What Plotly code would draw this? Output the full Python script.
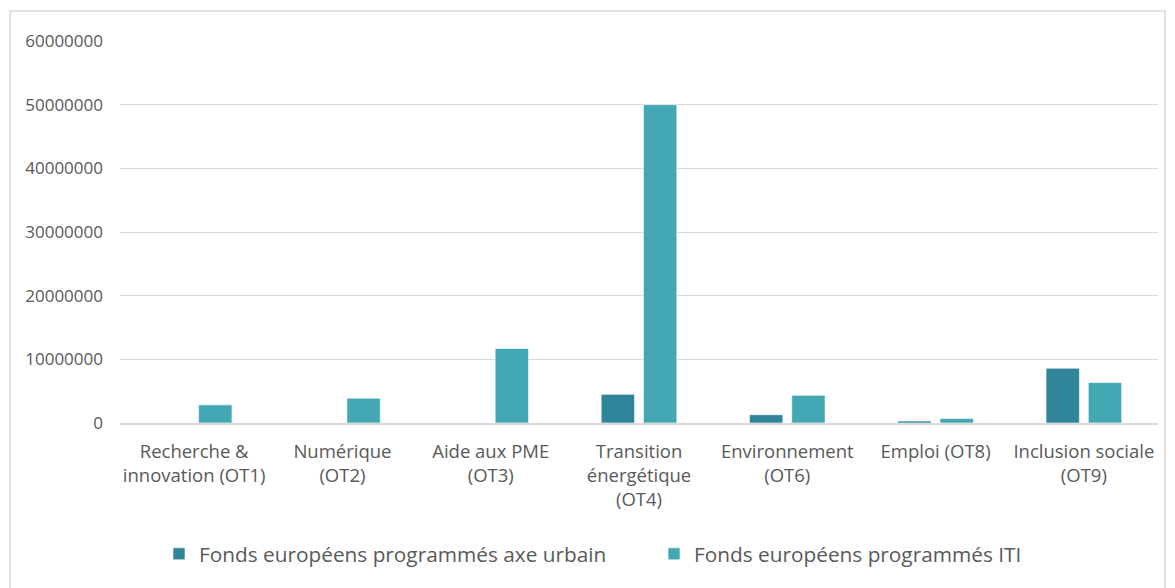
import plotly.graph_objects as go

categories = [
    "Recherche &<br>innovation (OT1)",
    "Numérique<br>(OT2)",
    "Aide aux PME<br>(OT3)",
    "Transition<br>énergétique<br>(OT4)",
    "Environnement<br>(OT6)",
    "Emploi (OT8)",
    "Inclusion sociale<br>(OT9)",
]
axe_urbain = [0, 0, 0, 4500000, 1300000, 300000, 8600000]
iti = [2850000, 3900000, 11700000, 50000000, 4350000, 700000, 6350000]

y_ticks = [0, 10000000, 20000000, 30000000, 40000000, 50000000, 60000000]

FONT = "Open Sans"
GREY = "#595959"
GRID = "#D9D9D9"

fig = go.Figure()

fig.add_trace(
    go.Bar(
        x=categories,
        y=axe_urbain,
        name="Fonds européens programmés axe urbain",
        marker=dict(color="#31859B", line=dict(color="#FFFFFF", width=0.6)),
    )
)
fig.add_trace(
    go.Bar(
        x=categories,
        y=iti,
        name="Fonds européens programmés ITI",
        marker=dict(color="#43A8B4", line=dict(color="#FFFFFF", width=0.6)),
    )
)

# cadre gris autour du graphique (style Excel)
fig.add_shape(
    type="rect",
    xref="paper",
    yref="paper",
    x0=-110 / 1038,
    x1=1.0 + 7 / 1038,
    y0=-200 / 382,
    y1=1.0 + 30 / 382,
    line=dict(color=GRID, width=1.5),
    fillcolor="rgba(0,0,0,0)",
    layer="below",
)

# la page a une marge de 8 px : la figure fait 1167 x 580
fig.update_layout(
    width=1167,
    height=580,
    margin=dict(l=112, r=17, t=33, b=165, autoexpand=False),
    paper_bgcolor="white",
    plot_bgcolor="white",
    font=dict(family=FONT, color=GREY, size=17),
    barmode="group",
    bargap=0.43,
    bargroupgap=0.21,
    showlegend=True,
    legend=dict(
        orientation="h",
        x=0.5 + 15 / 1038,
        xanchor="center",
        y=-0.29,
        yanchor="top",
        font=dict(family=FONT, size=20.8, color=GREY),
        itemwidth=30,
        entrywidth=450,
        traceorder="normal",
    ),
)

fig.update_xaxes(
    showgrid=False,
    showline=True,
    linecolor=GRID,
    linewidth=2,
    ticks="",
    ticklabelstandoff=11,
    automargin=False,
    tickfont=dict(family=FONT, size=18.5, color=GREY),
)
fig.update_yaxes(
    range=[0, 60000000],
    tickvals=y_ticks,
    ticktext=[str(v) for v in y_ticks],
    showgrid=True,
    gridcolor=GRID,
    gridwidth=1,
    zeroline=False,
    showline=False,
    ticklabelstandoff=16,
    automargin=False,
    tickfont=dict(family=FONT, size=17, color=GREY),
)

fig.write_html("out.html")
